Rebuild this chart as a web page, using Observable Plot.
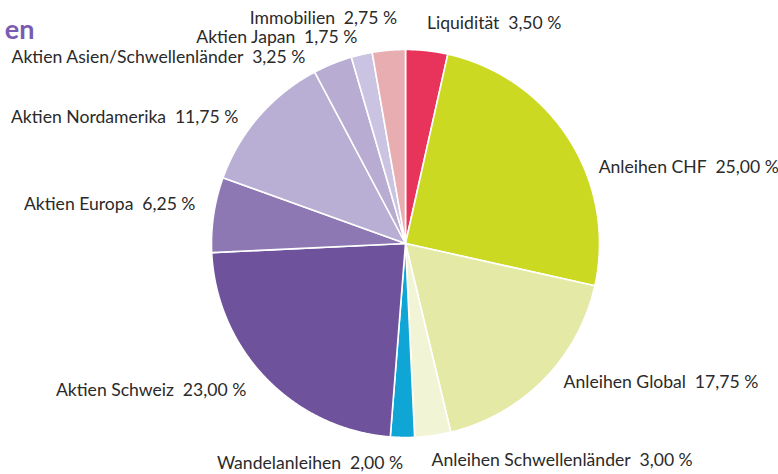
<!DOCTYPE html>
<html><head><meta charset="utf-8">
<script src="https://cdn.jsdelivr.net/npm/d3@7"></script>
<script src="https://cdn.jsdelivr.net/npm/@observablehq/plot@0.6"></script>
<style>html,body{margin:0;padding:0;background:#fff;overflow:hidden}</style>
</head><body><div id="chart"></div>
<script>
const titleText = "en";
const categories = ["Liquidität","Anleihen CHF","Anleihen Global","Anleihen Schwellenländer","Wandelanleihen","Aktien Schweiz","Aktien Europa","Aktien Nordamerika","Aktien Asien/Schwellenländer","Aktien Japan","Immobilien"];
const shares = [3.50, 25.00, 17.75, 3.00, 2.00, 23.00, 6.25, 11.75, 3.25, 1.75, 2.75];
const valueLabels = ["3,50 %","25,00 %","17,75 %","3,00 %","2,00 %","23,00 %","6,25 %","11,75 %","3,25 %","1,75 %","2,75 %"];
const colors = ["#e8345a","#cbd922","#e5e9a6","#f2f4d6","#0fa6d6","#6e539c","#8d78b4","#b9aed3","#b8acd2","#cbc3e2","#e8adb0"];
// label placement tweaks in pixels (from default radial position)
const labelNudge = [[-2,-8],[13,38],[6,-11],[-4,6],[1,6],[-6,-2],[1,-7],[-6,14],[-20,12],[0,2],[10,-13]];

const R = 194, cx = 405, cy = 243;
const arcs = d3.pie().sort(null).value(d => d)(shares);
const slicePts = [];
arcs.forEach((a, i) => {
  const name = categories[i];
  slicePts.push({name, u: 0, v: 0});
  const n = Math.max(4, Math.ceil((a.endAngle - a.startAngle) / 0.005));
  for (let k = 0; k <= n; k++) {
    const t = a.startAngle + (a.endAngle - a.startAngle) * k / n;
    slicePts.push({name, u: Math.sin(t), v: Math.cos(t)});
  }
});
const labelR = 1.1;
const labels = arcs.map((a, i) => {
  const t = (a.startAngle + a.endAngle) / 2;
  return {
    text: categories[i] + "\u2002" + valueLabels[i],
    u: labelR * Math.sin(t) + labelNudge[i][0] / R,
    v: labelR * Math.cos(t) - labelNudge[i][1] / R,
    anchor: Math.sin(t) >= 0 ? "start" : "end"
  };
});

const textOpts = {fontFamily: "Lato, 'Open Sans', sans-serif", fontSize: 17.6, fill: "#2a2a2a", lineAnchor: "middle"};
const chart = Plot.plot({
  width: 778, height: 474, margin: 0,
  x: {domain: [-1, 1], range: [cx - R, cx + R], axis: null},
  y: {domain: [-1, 1], range: [cy + R, cy - R], axis: null},
  color: {domain: categories, range: colors},
  style: {background: "#fff"},
  marks: [
    Plot.line(slicePts, {x: "u", y: "v", z: "name", fill: "name", stroke: "white", strokeWidth: 1.6, strokeLinejoin: "round", curve: "linear-closed"}),
    Plot.text(labels.filter(d => d.anchor === "start"), {x: "u", y: "v", text: "text", textAnchor: "start", ...textOpts}),
    Plot.text(labels.filter(d => d.anchor === "end"), {x: "u", y: "v", text: "text", textAnchor: "end", ...textOpts}),
    Plot.text([titleText], {frameAnchor: "top-left", dx: 34, dy: 38, textAnchor: "end", lineAnchor: "bottom", fontFamily: "Lato, sans-serif", fontWeight: "bold", fontSize: 27, fill: "#7a5bb3"})
  ]
});
document.getElementById("chart").appendChild(chart);
</script>
</body></html>
